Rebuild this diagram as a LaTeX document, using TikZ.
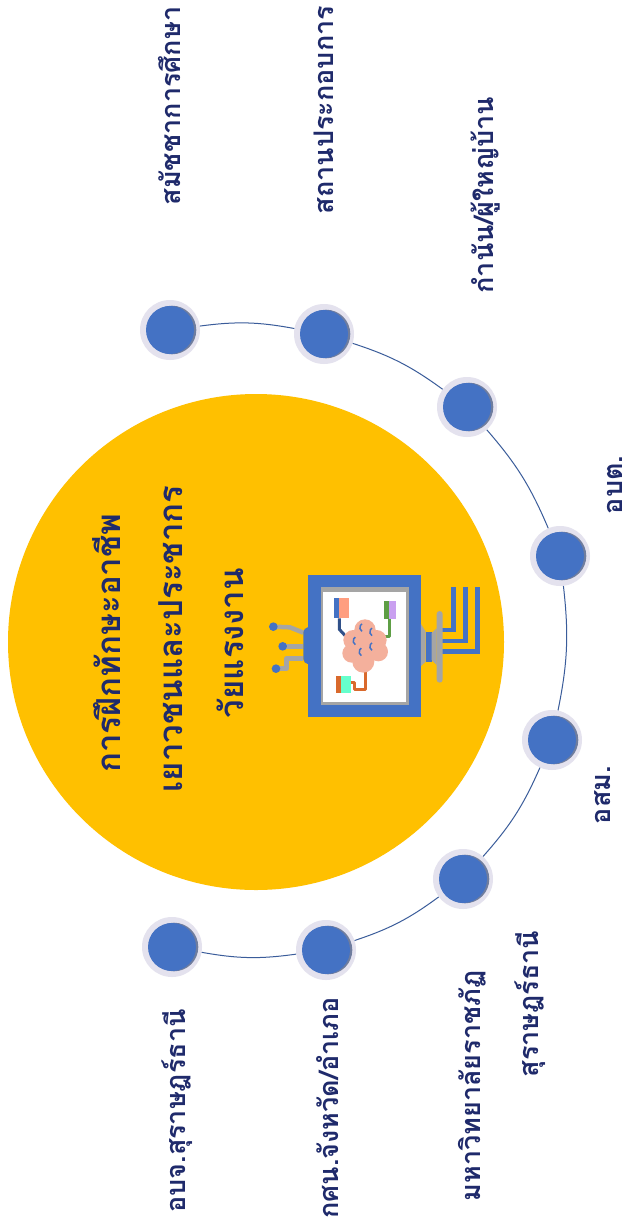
\documentclass[tikz,border=0pt]{standalone}
\usepackage{fontspec}
\newfontfamily\thaifont[Script=Thai]{Loma}
\definecolor{gold}{HTML}{FFC000}
\definecolor{bluem}{HTML}{4472C4}
\definecolor{halo}{HTML}{E4E2EE}
\definecolor{speck}{HTML}{6F7D9E}
\definecolor{navy}{HTML}{1F2A6B}
\definecolor{lineblue}{HTML}{3A5C9A}
\definecolor{greyi}{HTML}{A5A5A5}
\definecolor{brain}{HTML}{F4B09C}
\definecolor{salmon}{HTML}{FF9E80}
\definecolor{lilac}{HTML}{C9A0F0}
\definecolor{aqua}{HTML}{66FFCC}
\definecolor{rust}{HTML}{D9692C}
\definecolor{leaf}{HTML}{5E9E45}
\tikzset{
  halonode/.style={circle,fill=halo,minimum size=60pt,inner sep=0pt},
  arcline/.style={draw=lineblue,line width=1pt},
  mainlabel/.style={font=\thaifont\bfseries\fontsize{33}{36}\selectfont,text=navy,rotate=90,anchor=base,inner sep=0pt},
  sidelabel/.style={font=\thaifont\bfseries\fontsize{27}{30}\selectfont,text=navy,rotate=90,anchor=base,inner sep=0pt},
}
\newcommand{\bead}[1]{%
  \fill[speck] (#1)++(2,0) circle (24.3);
  \fill[bluem] (#1) circle (24);
}
\begin{document}
\begin{tikzpicture}[x=1pt,y=-1pt]
\useasboundingbox[fill=white] (0,0) rectangle (632,1232);
\node[circle,fill=gold,minimum size=496pt,inner sep=0pt] (hub) at (256,642) {};
% beads
\node[halonode] (n1) at (170,330) {};
\node[halonode] (n2) at (324,334) {};
\node[halonode] (n3) at (467,407) {};
\node[halonode] (n4) at (560,556) {};
\node[halonode] (n5) at (552,740) {};
\node[halonode] (n6) at (463,879) {};
\node[halonode] (n7) at (326,950) {};
\node[halonode] (n8) at (172,947) {};
\draw[arcline] (n1) to[bend left=9] (n2);
\draw[arcline] (n2) to[bend left=9] (n3);
\draw[arcline] (n3) to[bend left=9] (n4);
\draw[arcline] (n4) to[bend left=9] (n5);
\draw[arcline] (n5) to[bend left=9] (n6);
\draw[arcline] (n6) to[bend left=9] (n7);
\draw[arcline] (n7) to[bend left=9] (n8);
\bead{n1}\bead{n2}\bead{n3}\bead{n4}\bead{n5}\bead{n6}\bead{n7}\bead{n8}
% main text
\node[mainlabel] (t1) at (120,643) {การฝึกทักษะอาชีพ};
\node[mainlabel] (t2) at (182,639) {เยาวชนและประชากร};
\node[mainlabel] (t3) at (243,643) {วัยแรงงาน};
% side labels
\node[sidelabel] (l1) at (180,106) {สมัชชาการศึกษา};
\node[sidelabel] (l2) at (333,110) {สถานประกอบการ};
\node[sidelabel] (l3) at (493,195) {กำนัน/ผู้ใหญ่บ้าน};
\node[sidelabel] (l4) at (622,485) {อบต.};
\node[sidelabel] (l5) at (610,795) {อสม.};
\node[sidelabel] (l6a) at (480,1086) {มหาวิทยาลัยราชภัฏ};
\node[sidelabel] (l6b) at (538,1004) {สุราษฎร์ธานี};
\node[sidelabel] (l7) at (338,1108) {กศน.จังหวัด/อำเภอ};
\node[sidelabel] (l8) at (185,1111) {อบจ.สุราษฎร์ธานี};
% icon
\begin{scope}[shift={(240,550)},x=0.3333pt,y=-0.3333pt]
  \draw[greyi,line width=4.5pt,line join=round] (190,248)--(150,232)--(100,230);
  \draw[greyi,line width=4.5pt] (190,289)--(128,289);
  \draw[greyi,line width=4.5pt,line join=round] (190,325)--(140,325)--(140,356)--(108,356);
  \fill[bluem] (100,230) circle (13);
  \fill[bluem] (128,289) circle (13);
  \fill[bluem] (108,356) circle (13);
  \fill[bluem,rounded corners=5pt] (190,232) rectangle (215,342);
  \fill[bluem] (205,75) rectangle (543,500);
  \fill[greyi] (242,110) rectangle (507,465);
  \fill[white] (250,125) rectangle (498,455);
  % chips
  \fill[bluem] (283,143) rectangle (298,205);
  \fill[salmon] (298,143) rectangle (328,205);
  \fill[leaf] (432,152) rectangle (447,208);
  \fill[lilac] (447,152) rectangle (468,208);
  \fill[rust] (288,378) rectangle (303,430);
  \fill[aqua] (303,378) rectangle (332,430);
  \draw[bluem!70!black,line width=3pt,line join=round] (298,205)--(298,238)--(322,264);
  \draw[leaf,line width=3pt,line join=round] (450,208)--(450,258)--(410,258);
  \draw[rust,line width=3pt,line join=round] (332,397)--(345,397)--(345,420)--(378,420)--(378,365);
  % brain
  \fill[brain] (375,240) circle (32);
  \fill[brain] (340,270) circle (30);
  \fill[brain] (410,270) circle (30);
  \fill[brain] (335,310) circle (28);
  \fill[brain] (415,305) circle (29);
  \fill[brain] (370,335) circle (33);
  \fill[brain] (375,285) circle (40);
  \foreach \bx/\by in {362/255, 392/268, 342/295, 360/328, 392/312}
    \draw[bluem,line width=1.5pt] (\bx+4,\by-11) arc (120:240:13);
  % stand
  \fill[greyi] (543,222) -- (557,245) -- (557,335) -- (543,348) -- cycle;
  \fill[bluem] (557,245) rectangle (575,335);
  \fill[greyi] (575,250) -- (590,235) -- (590,345) -- (575,330) -- cycle;
  \draw[bluem,line width=4.6pt,line join=miter] (606,240)--(640,240)--(640,112);
  \draw[bluem,line width=4.6pt,line join=miter] (606,273)--(676,273)--(676,112);
  \draw[bluem,line width=4.6pt,line join=miter] (606,305)--(712,305)--(712,112);
  \fill[greyi,rounded corners=3pt] (590,183) rectangle (608,398);
\end{scope}
\end{tikzpicture}
\end{document}
